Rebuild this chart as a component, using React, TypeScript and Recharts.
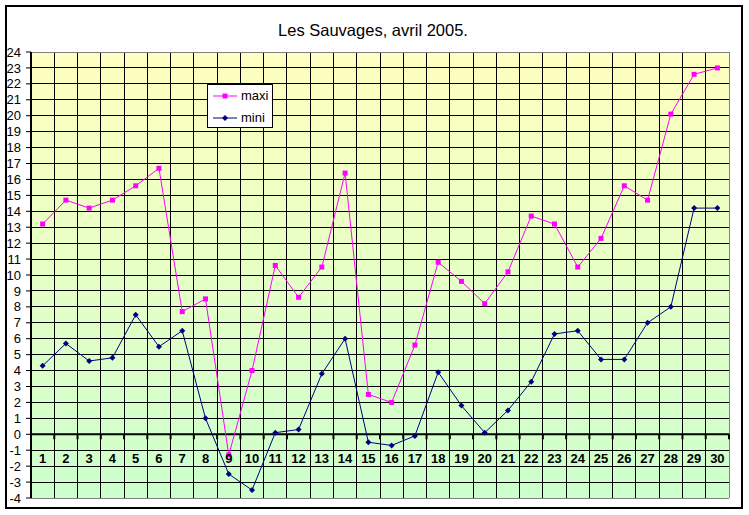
import { LineChart, Line, XAxis, YAxis, CartesianGrid, ReferenceLine, Legend } from 'recharts';

const DAYS = [
  '1', '2', '3', '4', '5', '6', '7', '8', '9', '10',
  '11', '12', '13', '14', '15', '16', '17', '18', '19', '20',
  '21', '22', '23', '24', '25', '26', '27', '28', '29', '30',
];

const MAXI = [
  13.2, 14.7, 14.2, 14.7, 15.6, 16.7, 7.7, 8.5, -1.3, 4.0,
  10.6, 8.6, 10.5, 16.4, 2.5, 2.0, 5.6, 10.8, 9.6, 8.2,
  10.2, 13.7, 13.2, 10.5, 12.3, 15.6, 14.7, 20.1, 22.6, 23.0,
];

const MINI = [
  4.3, 5.7, 4.6, 4.8, 7.5, 5.5, 6.5, 1.0, -2.5, -3.5,
  0.1, 0.3, 3.8, 6.0, -0.5, -0.7, -0.1, 3.9, 1.8, 0.1,
  1.5, 3.3, 6.3, 6.5, 4.7, 4.7, 7.0, 8.0, 14.2, 14.2,
];

const Y_TICKS = [
  -4, -3, -2, -1, 0, 1, 2, 3, 4, 5, 6, 7, 8, 9, 10, 11, 12, 13, 14,
  15, 16, 17, 18, 19, 20, 21, 22, 23, 24,
];

const TITLE = 'Les Sauvages, avril 2005.';

const W = 749;
const H = 515;
const MARGIN = { top: 52, right: 20, bottom: 16, left: 0 };
const X_AXIS_H = 1;
const Y_AXIS_W = 31;
const PLOT_W = W - MARGIN.left - MARGIN.right - Y_AXIS_W;
const PLOT_H = H - MARGIN.top - MARGIN.bottom - X_AXIS_H;
const Y_MIN = -4;
const Y_MAX = 24;
const UNIT = PLOT_H / (Y_MAX - Y_MIN);
const BAND = PLOT_W / DAYS.length;
const FONT = '"Liberation Sans", Arial, sans-serif';
const MAXI_COLOR = '#FF00FF';
const MINI_COLOR = '#000080';

const data = DAYS.map((day, i) => ({ day, maxi: MAXI[i], mini: MINI[i] }));

// category labels sit between 0 and -1 like the Excel original, ticks hang off the 0 line
function DayTick(props: any) {
  const { x, y, payload, index } = props;
  const zeroY = y - (0 - Y_MIN) * UNIT;
  const labelY = y - (-1.5 - Y_MIN) * UNIT;
  const half = BAND / 2;
  return (
    <g>
      <line x1={x - half} x2={x - half} y1={zeroY} y2={zeroY + 5} stroke="#000" strokeWidth={2} />
      {index === DAYS.length - 1 && (
        <line x1={x + half} x2={x + half} y1={zeroY} y2={zeroY + 5} stroke="#000" strokeWidth={2} />
      )}
      <text
        x={x}
        y={labelY}
        textAnchor="middle"
        dominantBaseline="central"
        fontFamily={FONT}
        fontWeight="bold"
        fontSize={13}
        fill="#000"
      >
        {payload.value}
      </text>
    </g>
  );
}

function SquareDot(props: any) {
  const { cx, cy, index } = props;
  if (cx == null || cy == null) return <g key={`sq-${index}`} />;
  return <rect key={`sq-${index}`} x={cx - 2.5} y={cy - 2.5} width={5} height={5} fill={MAXI_COLOR} />;
}

function DiamondDot(props: any) {
  const { cx, cy, index } = props;
  if (cx == null || cy == null) return <g key={`dm-${index}`} />;
  return (
    <polygon
      key={`dm-${index}`}
      points={`${cx},${cy - 3} ${cx + 3},${cy} ${cx},${cy + 3} ${cx - 3},${cy}`}
      fill={MINI_COLOR}
    />
  );
}

function LegendBox() {
  const rows = [
    { name: 'maxi', color: MAXI_COLOR, square: true },
    { name: 'mini', color: MINI_COLOR, square: false },
  ];
  return (
    <div
      style={{
        width: 66,
        height: 44,
        boxSizing: 'border-box',
        border: '1px solid #000',
        background: '#fff',
        fontFamily: FONT,
        fontSize: 13,
        position: 'relative',
      }}
    >
      {rows.map((r, i) => (
        <div key={r.name} style={{ position: 'absolute', left: 0, top: 3 + i * 22, height: 16, width: 64 }}>
          <svg width={30} height={16} style={{ position: 'absolute', left: 3, top: 0 }}>
            <line x1={2} x2={26} y1={8} y2={8} stroke={r.color} strokeWidth={1} />
            {r.square ? (
              <rect x={11.5} y={5.5} width={5} height={5} fill={r.color} />
            ) : (
              <polygon points="14,5 17,8 14,11 11,8" fill={r.color} />
            )}
          </svg>
          <span style={{ position: 'absolute', left: 33, top: 0, lineHeight: '16px' }}>{r.name}</span>
        </div>
      ))}
    </div>
  );
}

export default function App() {
  return (
    <div style={{ position: 'absolute', left: 0, top: 0, width: W, height: H, background: '#fff' }}>
      <style>{'.recharts-cartesian-grid line { shape-rendering: crispEdges; }'}</style>
      <div
        style={{
          position: 'absolute',
          left: 5,
          top: 5,
          width: 738,
          height: 504,
          boxSizing: 'border-box',
          border: '2px solid #000',
        }}
      />
      <div
        style={{
          position: 'absolute',
          left: 0,
          top: 21,
          width: 746,
          textAlign: 'center',
          fontFamily: FONT,
          fontSize: 16.5,
          lineHeight: '18px',
          color: '#000',
        }}
      >
        {TITLE}
      </div>
      <div style={{ position: 'absolute', left: 0, top: 0 }}>
        <LineChart width={W} height={H} data={data} margin={MARGIN}>
          <defs>
            <linearGradient id="plotBg" x1="0" y1="0" x2="0" y2="1">
              <stop offset="0%" stopColor="#FFFFC0" />
              <stop offset="100%" stopColor="#CCFFCC" />
            </linearGradient>
          </defs>
          <CartesianGrid
            fill="url(#plotBg)"
            stroke="#000"
            strokeOpacity={1}
            verticalCoordinatesGenerator={({ offset }: any) =>
              DAYS.map((_, i) => offset.left + (i + 1) * (offset.width / DAYS.length))
            }
          />
          <CartesianGrid
            stroke="#808080"
            strokeOpacity={1}
            horizontalCoordinatesGenerator={({ offset }: any) => [offset.top, offset.top + offset.height]}
            verticalCoordinatesGenerator={({ offset }: any) => [offset.left + offset.width]}
          />
          <XAxis
            dataKey="day"
            scale="band"
            height={X_AXIS_H}
            axisLine={false}
            tickLine={false}
            tickSize={0}
            tickMargin={0}
            interval={0}
            tick={<DayTick />}
          />
          <YAxis
            type="number"
            domain={[Y_MIN, Y_MAX]}
            ticks={Y_TICKS}
            interval={0}
            width={Y_AXIS_W}
            tickSize={5}
            tickMargin={5}
            axisLine={{ stroke: '#000', strokeWidth: 2 }}
            tickLine={{ stroke: '#000', strokeWidth: 1 }}
            tick={{ fontSize: 13, fill: '#000', fontFamily: FONT }}
          />
          <ReferenceLine y={0} stroke="#000" strokeWidth={2} />
          <Line
            dataKey="mini"
            stroke={MINI_COLOR}
            strokeWidth={1}
            dot={DiamondDot}
            activeDot={false}
            isAnimationActive={false}
          />
          <Line
            dataKey="maxi"
            stroke={MAXI_COLOR}
            strokeWidth={1}
            dot={SquareDot}
            activeDot={false}
            isAnimationActive={false}
          />
          <Legend
            layout="vertical"
            align="center"
            verticalAlign="middle"
            wrapperStyle={{ left: 207, top: 84, width: 66 }}
            content={() => <LegendBox />}
          />
        </LineChart>
      </div>
    </div>
  );
}
